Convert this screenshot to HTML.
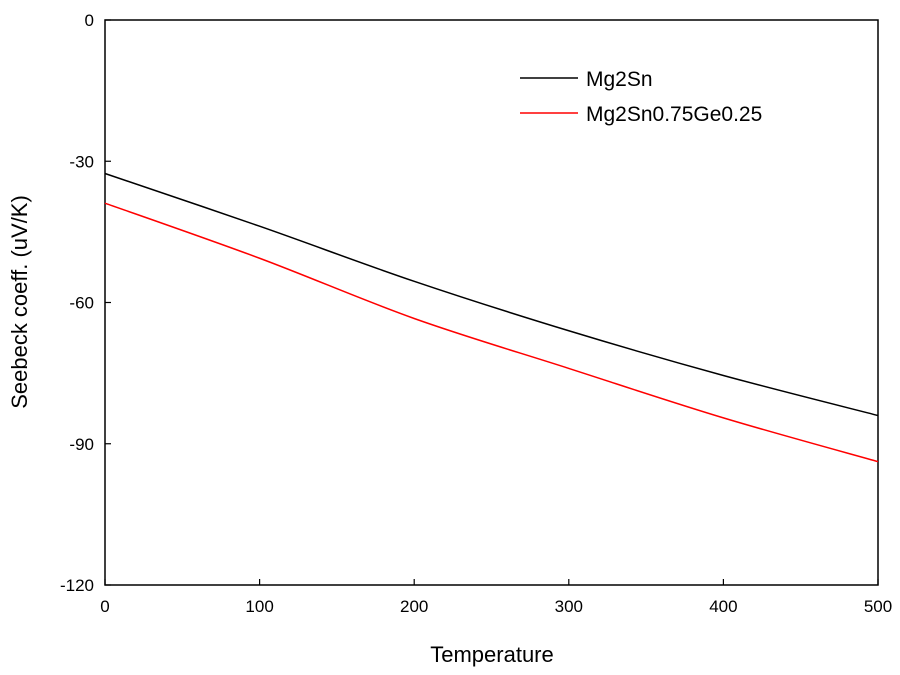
<!DOCTYPE html>
<html><head><meta charset="utf-8"><style>
body{margin:0;background:#fff;}
svg text{font-family:"Liberation Sans",Arial,sans-serif;fill:#000;}
</style></head><body>
<svg id="chart" width="900" height="670">
<rect x="105" y="20" width="773" height="565" fill="none" stroke="#000" stroke-width="1.5"/>
<g id="axes"></g>
<g id="series"></g>
<text x="492" y="662" font-size="22" text-anchor="middle">Temperature</text>
<text transform="translate(27,302) rotate(-90)" font-size="22" text-anchor="middle">Seebeck coeff. (uV/K)</text>
<g>
<line x1="520" y1="78" x2="578" y2="78" stroke="#000" stroke-width="1.5"/>
<text x="586" y="86" font-size="21">Mg2Sn</text>
<line x1="520" y1="113" x2="578" y2="113" stroke="#f00" stroke-width="1.5"/>
<text x="586" y="121" font-size="21">Mg2Sn0.75Ge0.25</text>
</g>
</svg>
<script>
const temps=[0,100,200,300,400,500];
const mg2sn=[-32.6,-43.8,-55.5,-66,-75.5,-84];
const mg2snge=[-38.9,-50.6,-63.4,-74,-84.5,-93.8];
const xTicks=[0,100,200,300,400,500];
const yTicks=[0,-30,-60,-90,-120];
const NS="http://www.w3.org/2000/svg";
function sx(v){return 105+v/500*773;}
function sy(v){return 20+(-v)/120*565;}
const axes=document.getElementById('axes');
const series=document.getElementById('series');
function mk(tag,attrs,parent){const e=document.createElementNS(NS,tag);for(const k in attrs)e.setAttribute(k,attrs[k]);parent.appendChild(e);return e;}
xTicks.forEach(t=>{
  const l=mk('line',{x1:sx(t),x2:sx(t),y1:585,y2:579,stroke:'#000','stroke-width':1.2},axes);
  
  
  const tx=mk('text',{x:sx(t),y:612,'font-size':17,'text-anchor':'middle'},axes);
  tx.textContent=t;
  
  
});
yTicks.forEach(t=>{
  const l=mk('line',{x1:105,x2:111,y1:sy(t),y2:sy(t),stroke:'#000','stroke-width':1.2},axes);
  
  
  const tx=mk('text',{x:94,y:sy(t)+6,'font-size':17,'text-anchor':'end'},axes);
  tx.textContent=t;
  
  
});
function path(vals){
  const p=temps.map((t,i)=>[sx(t),sy(vals[i])]);
  let d='M'+p[0][0]+','+p[0][1];
  for(let i=0;i<p.length-1;i++){
    const p0=p[i-1]||p[i],p1=p[i],p2=p[i+1],p3=p[i+2]||p2;
    const c1=[p1[0]+(p2[0]-p0[0])/6,p1[1]+(p2[1]-p0[1])/6];
    const c2=[p2[0]-(p3[0]-p1[0])/6,p2[1]-(p3[1]-p1[1])/6];
    d+=' C'+c1+' '+c2+' '+p2;
  }
  return d;
}
const a=mk('path',{d:path(mg2sn),fill:'none',stroke:'#000','stroke-width':1.5},series);


const b=mk('path',{d:path(mg2snge),fill:'none',stroke:'#f00','stroke-width':1.5},series);


</script>
</body></html>
